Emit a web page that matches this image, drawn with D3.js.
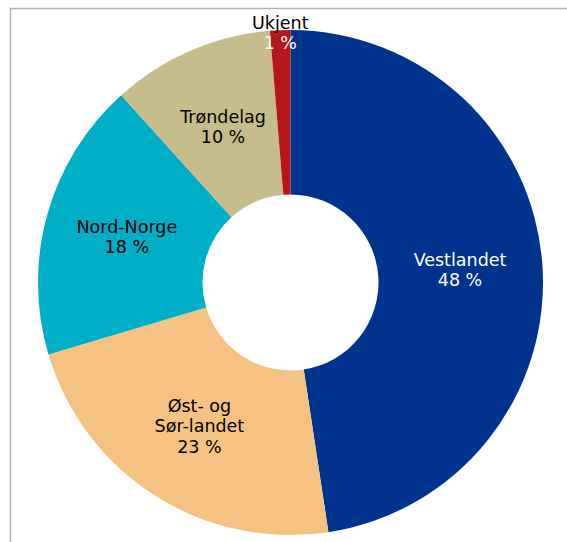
<!DOCTYPE html>
<html>
<head>
<meta charset="utf-8">
<script src="https://cdn.jsdelivr.net/npm/d3@7"></script>
<style>
  body { margin: 0; background: #fff; }
  text { font-family: "DejaVu Sans", Verdana, sans-serif; font-size: 17.5px; }
</style>
</head>
<body>
<div class="chart"></div>
<script>
var svgWidth = 567;
var svgHeight = 542;

// chart data
var regions = ["Vestlandet", "Øst- og Sør-landet", "Nord-Norge", "Trøndelag", "Ukjent"];
var shares = [47.6, 22.8, 17.9, 10.4, 1.3];
var labels = ["48 %", "23 %", "18 %", "10 %", "1 %"];
var colors = ["#00338D", "#F5C281", "#00AEC7", "#C7BD8A", "#B5161B"];

var cx = 290.5, cy = 282.5;
var outerR = 252.5, innerR = 88;

var svg = d3.select(".chart")
    .append("svg")
    .attr("width", svgWidth)
    .attr("height", svgHeight);

// frame (top and left edges visible)
svg.append("path")
    .attr("d", "M10.5," + svgHeight + "V8.5H" + svgWidth)
    .attr("fill", "none")
    .attr("stroke", "#b4b4b4")
    .attr("stroke-width", 1.5);

var data = regions.map(function (r, i) {
    return { region: r, value: shares[i], label: labels[i], color: colors[i] };
});

var pie = d3.pie().sort(null).value(function (d) { return d.value; });
var arc = d3.arc().innerRadius(innerR).outerRadius(outerR);

var chart = svg.append("g")
    .attr("transform", `translate(${cx},${cy})`);

var arcs = pie(data);

chart.selectAll("path.slice")
    .data(arcs)
    .enter()
    .append("path")
    .attr("class", "slice")
    .attr("d", arc)
    .attr("fill", function (d) { return d.data.color; });

// label positions: inside the ring, small slice goes to the rim
var labelArc = d3.arc().innerRadius(170).outerRadius(170);
var rimArc = d3.arc().innerRadius(250).outerRadius(250);

var lineH = 20.5;

arcs.forEach(function (d) {
    var small = d.data.value < 5;
    var c = small ? rimArc.centroid(d) : labelArc.centroid(d);
    var lines = d.data.region === "Øst- og Sør-landet"
        ? ["Øst- og", "Sør-landet", d.data.label]
        : [d.data.region, d.data.label];
    var top = c[1] - (lines.length - 1) * lineH / 2;
    var t = chart.append("text")
        .attr("text-anchor", "middle");
    lines.forEach(function (l, j) {
        var fill = "#000";
        if (d.data.region === "Vestlandet") fill = "#fff";
        if (small && j === 1) fill = "#fff";
        t.append("tspan")
            .attr("x", c[0])
            .attr("y", top + j * lineH)
            .attr("dy", "0.36em")
            .attr("fill", fill)
            .text(l);
    });
});
</script>
</body>
</html>
